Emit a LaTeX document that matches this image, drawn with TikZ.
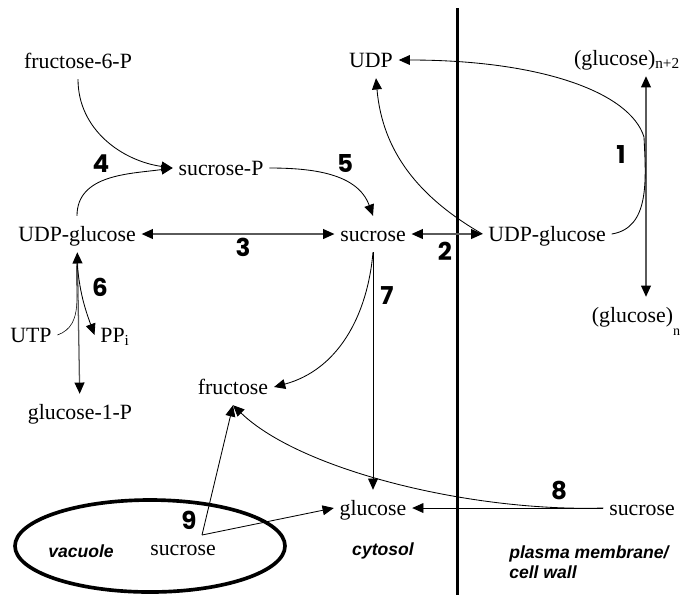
\documentclass[tikz,border=0pt]{standalone}
\usepackage{fontspec}
\setmainfont{Liberation Serif}
\setsansfont{Liberation Sans}
\newfontfamily\numfont{Poppins}
\usepackage{tikz}
\usetikzlibrary{arrows.meta,calc}
\usepackage{xcolor}
\definecolor{rev}{HTML}{5A5A5A}

\begin{document}
\begin{tikzpicture}[
    x=0.025cm, y=-0.025cm,
    species/.style={font=\fontsize{15.5}{18}\selectfont, inner sep=4pt, text height=14pt, text depth=3.5pt},
    num/.style={font=\numfont\bfseries\fontsize{17.5}{18}\selectfont, inner sep=0pt},
    region/.style={font=\sffamily\bfseries\itshape\fontsize{12.5}{14}\selectfont, align=left, inner sep=0pt},
    flow/.style={-{Triangle[length=8pt,width=7pt]}, line width=0.6pt},
    revflow/.style={{Triangle[length=8pt,width=7pt,color=black]}-{Triangle[length=8pt,width=7pt,color=black]}, line width=0.9pt, rev},
    wall/.style={line width=2.6pt}
]
\useasboundingbox (0,0) rectangle (688,595);

\draw[wall] (457.5,8) -- (457.5,595);
\draw[wall] (150,546) ellipse [x radius=135, y radius=46];

\node[species] (f6p)   at (78,61)   {fructose-6-P};
\node[species] (udp)   at (371,60)  {UDP};
\node[species] (glcn2) at (627,58)  {(glucose)\textsubscript{n+2}};
\node[species] (sucP)  at (221,168) {sucrose-P};
\node[species] (udpgL) at (77,234)  {UDP-glucose};
\node[species] (sucM)  at (373,234) {sucrose};
\node[species] (udpgR) at (547,234) {UDP-glucose};
\node[species] (glcn)  at (636,315) {(glucose)\raisebox{-1.3ex}{\fontsize{10}{10}\selectfont n}};
\node[species] (utp)   at (31,335)  {UTP};
\node[species] (ppi)   at (115,335) {PP\textsubscript{i}};
\node[species] (fru)   at (233,387) {fructose};
\node[species] (g1p)   at (80,412)  {glucose-1-P};
\node[species] (glc)   at (373,508) {glucose};
\node[species] (sucR)  at (642,508) {sucrose};
\node[species] (sucV)  at (183,548) {sucrose};
\coordinate (v9) at (202,535);
\coordinate (j6) at ($(udpgL.south)+(0,10)$);

\node[num] (n1) at (621,155) {1};
\node[num] (n2) at (445,251) {2};
\node[num] (n3) at (243,247) {3};
\node[num] (n4) at (101,164) {4};
\node[num] (n5) at (345,163) {5};
\node[num] (n6) at (100,287) {6};
\node[num] (n7) at (387,296) {7};
\node[num] (n8) at (559,490) {8};
\node[num] (n9) at (189,520) {9};

\node[region] (vac) at (81,551)  {vacuole};
\node[region] (cyt) at (383,551) {cytosol};
\node[region, anchor=west] (pm) at (509,562) {plasma membrane/\\cell wall};

\draw[revflow] (udpgL) -- (sucM);
\draw[revflow] (sucM) -- (udpgR);
\draw[revflow] (g1p) -- (udpgL);
\draw[revflow] ($(glcn2.south)+(19,0)$) -- ($(glcn.north)+(10,0)$);

\draw[flow] (f6p.south) to[out=-90, in=172] (sucP.west);
\draw[flow] (udpgL.north) to[out=90, in=188] (sucP.west);
\draw[flow] (sucP.east) to[out=0, in=110] (sucM.north);
\draw[flow] (udpgR.west) to[out=150, in=-85] ($(udp.south)+(5,0)$);
\draw[flow] (udpgR.east) .. controls (650,228) and (646,180) .. (644,137)
    .. controls (630,92) and (540,60) .. (udp.east);
\draw (utp.east) to[out=20, in=-95] (j6);
\draw[flow] (j6) to[out=-85, in=110] (ppi.west);
\draw[flow] (sucM.south) -- (glc.north);
\draw[flow] (sucM.south) to[out=-95, in=15] (fru.east);
\draw[flow] (sucR.west) -- (glc.east);
\draw[flow] (sucR.west) .. controls (470,512) and (300,470) .. (fru.south);
\draw[flow] (v9) -- (fru.south);
\draw[flow] (v9) -- (glc.west);

\end{tikzpicture}
\end{document}
